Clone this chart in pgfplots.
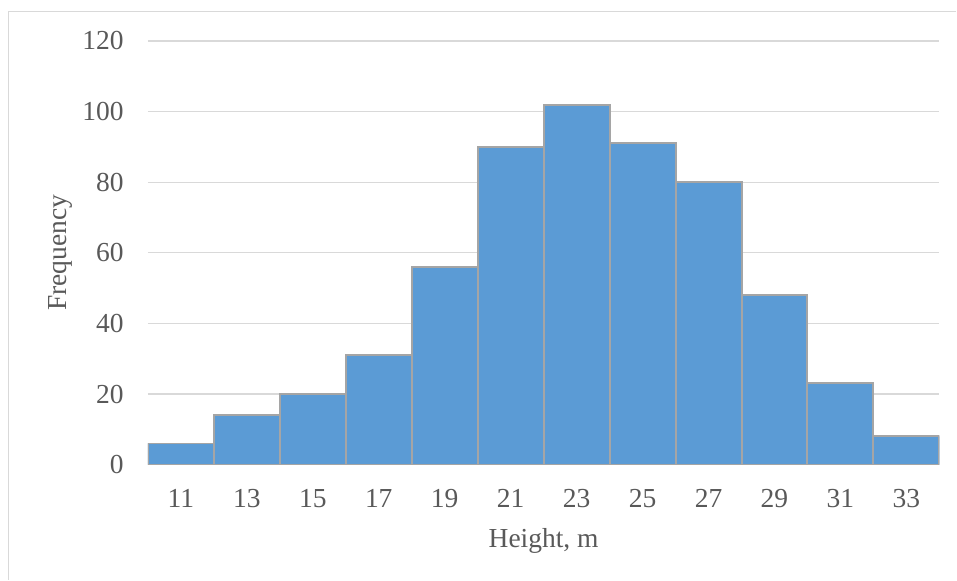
\documentclass[border=0pt]{standalone}
\usepackage{pgfplots}
\pgfplotsset{compat=1.18}
\usepackage{fontspec}
\setmainfont{Liberation Serif}
\definecolor{barblue}{HTML}{5B9BD5}
\definecolor{baredge}{HTML}{A5A5A5}
\definecolor{gridgray}{HTML}{D9D9D9}
\definecolor{textgray}{HTML}{595959}
\begin{document}
\begin{tikzpicture}
\begin{axis}[
  scale only axis, width=792pt, height=424pt,
  xmin=10, xmax=34, ymin=0, ymax=120,
  ytick={0,20,...,120},
  xtick={11,13,...,33},
  axis line style={draw=none},
  tick style={draw=none},
  ymajorgrids,
  grid style={gridgray, line width=1.3pt},
  font=\fontsize{27.5}{32}\selectfont,
  /pgf/number format/assume math mode=true,
  tick label style={textgray, inner sep=0pt},
  yticklabel style={anchor=east, xshift=-24pt},
  xticklabel style={anchor=base, yshift=-43pt},
  xlabel={Height, m},
  ylabel={Frequency},
  xlabel style={textgray, at={(axis description cs:0.5,-0.19575)}, anchor=base, inner sep=0pt},
  ylabel style={textgray, at={(axis description cs:-0.10227,0.5)}, anchor=base, inner sep=0pt},
]
\addplot[ybar interval, fill=barblue, draw=baredge, line width=2pt]
  coordinates {
    (10,6) (12,14) (14,20) (16,31) (18,56) (20,90)
    (22,102) (24,91) (26,80) (28,48) (30,23) (32,8) (34,8)
  };
\end{axis}
% chart area frame and page extent
\draw[gridgray, line width=1.3pt] (-139.5pt,-115pt) -- (-139.5pt,453.5pt) -- (809pt,453.5pt);
\useasboundingbox (-148pt,-115pt) rectangle (809pt,465pt);
\end{tikzpicture}
\end{document}
